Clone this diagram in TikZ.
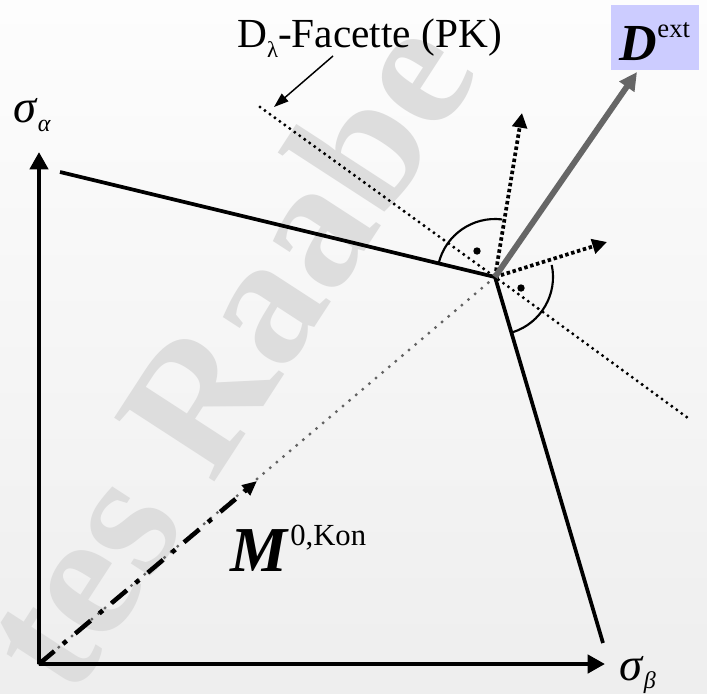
\documentclass[tikz,border=0pt]{standalone}
\usepackage{fontspec}
\setmainfont{Liberation Serif}
\usetikzlibrary{arrows.meta}

\begin{document}
\begin{tikzpicture}[x=0.75pt,y=0.75pt,yscale=-1,xscale=1,
  axis/.style={line width=3.5pt,-{Triangle[length=13pt,width=13.5pt]}},
  facet/.style={line width=2.8pt,line join=miter},
  facette/.style={line width=2.5pt,line cap=round,dash pattern=on 0pt off 4.6pt},
  normal/.style={line width=2.8pt,dash pattern=on 2.6pt off 2pt,-{Triangle[length=11pt,width=11pt]}},
  graydots/.style={color={rgb, 255:red, 100; green, 100; blue, 100 },line width=2.5pt,line cap=round,dash pattern=on 0pt off 6.5pt},
  mdash/.style={line width=3.4pt,dash pattern=on 15pt off 8.5pt on 3.5pt off 8.5pt,-{Triangle[length=11pt,width=9.5pt]}},
  label/.style={anchor=base west,inner sep=0pt}]
\useasboundingbox (0,0) rectangle (707,693);

%Background
\shade [top color={rgb, 255:red, 253; green, 253; blue, 253 },bottom color={rgb, 255:red, 238; green, 238; blue, 238 }] (0,0) rectangle (707,693);
\begin{scope}
\clip (0,0) rectangle (707,693);
% Text Node
\node [rotate=57,inner sep=0pt,color={rgb, 255:red, 221; green, 221; blue, 221 }] (wm) at (225,352) {\fontsize{136}{136}\selectfont\bfseries tes Raabe};
\end{scope}

\coordinate (o) at (39,664);
\coordinate (ya) at (39,152);
\coordinate (xb) at (605,664);
\coordinate (tl) at (60,172);
\coordinate (v) at (495,277);
\coordinate (br) at (603,643);
\coordinate (fs) at (260,107);
\coordinate (fe) at (688,418);
\coordinate (nu) at (522,113);
\coordinate (nr) at (607,242);
\coordinate (dx) at (637,72);
\coordinate (mt) at (257,481);
\coordinate (pt) at (333,56);
\coordinate (pe) at (274,107);

%Straight Lines
\draw [graydots] (o) -- (v) ;
\draw [mdash] (o) -- (mt) ;
%Straight Lines
\draw [axis] (o) -- (ya) ;
\draw [axis] (o) -- (xb) ;
%Straight Lines
\draw [facette] (fs) -- (v) -- (fe) ;
\draw [facet] (tl) -- (v) -- (br) ;
%Straight Lines
\draw [normal] (v) -- (nu) ;
\draw [normal] (v) -- (nr) ;
\draw [color={rgb, 255:red, 102; green, 102; blue, 102 },line width=4.4pt,-{Triangle[length=13.5pt,width=13pt]}] (v) -- (dx) ;
\draw [line width=1.1pt,-{Triangle[length=11pt,width=7.5pt]}] (pt) -- (pe) ;
%Arcs
\draw [line width=1.6pt] (v) ++(193.6:58) arc [start angle=193.6,end angle=277,radius=58] ;
\draw [line width=1.6pt] (v) ++(-12:58) arc [start angle=-12,end angle=72,radius=58] ;
\fill (477,251) circle [radius=3.7] ;
\fill (521,288) circle [radius=3.7] ;

% Text Node
\node [label] (facettxt) at (237,47) {\fontsize{31}{31}\selectfont D\raisebox{-8pt}{\fontsize{17}{17}\selectfont λ}-Facette (PK)};
% Text Node
\node [anchor=base,inner sep=0pt,fill={rgb, 255:red, 204; green, 204; blue, 255 },minimum width=66pt,text height=41pt,text depth=7.5pt] (dext) at (655,60) {\fontsize{39}{39}\selectfont\textbf{\textit{D}}\raisebox{17pt}{\fontsize{20}{20}\selectfont ext}};
% Text Node
\node [label] (sa) at (13,122) {\fontsize{35}{35}\selectfont\textit{σ}\raisebox{-7pt}{\fontsize{18}{18}\selectfont\textit{α}}};
% Text Node
\node [label] (sb) at (619,680) {\fontsize{35}{35}\selectfont\textit{σ}\raisebox{-6pt}{\fontsize{18}{18}\selectfont\textit{β}}};
% Text Node
\node [label] (mkon) at (230,571) {\fontsize{48}{48}\selectfont\textbf{\textit{M}}\kern1pt\raisebox{19pt}{\fontsize{23}{23}\selectfont 0,Kon}};

\end{tikzpicture}
\end{document}
